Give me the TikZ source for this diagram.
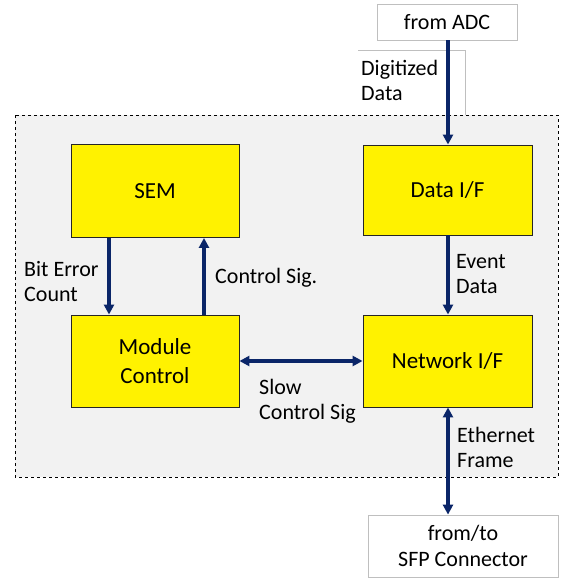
\documentclass[tikz,border=0pt]{standalone}
\usepackage{fontspec}
\setmainfont{Carlito}
\usetikzlibrary{arrows.meta}
\definecolor{navy}{HTML}{0A2568}
\definecolor{panel}{HTML}{F2F2F2}
\definecolor{thinframe}{HTML}{BFBFBF}
\tikzset{
  block/.style={draw=black!85, line width=0.9pt, fill=yellow, font=\fontsize{23}{29}\selectfont, align=center, inner sep=0pt},
  portbox/.style={draw=thinframe, line width=0.8pt, fill=white, font=\fontsize{22}{25.5}\selectfont, align=center, inner sep=0pt},
  lbl/.style={font=\fontsize{22}{25.5}\selectfont, anchor=base west, inner sep=0pt},
  link/.style={draw=navy, line width=3.2pt, -{Triangle[length=10pt,width=10pt]}},
  bilink/.style={draw=navy, line width=3.2pt, {Triangle[length=10pt,width=10pt]}-{Triangle[length=10pt,width=10pt]}}
}
\begin{document}
\begin{tikzpicture}[x=1pt,y=-1pt]
\useasboundingbox (0,0) rectangle (568,578);
% frame behind the "Digitized Data" label
\draw[thinframe, line width=0.8pt] (358,50) -- (465,50) -- (465,118);
% module outline
\draw[dashed, fill=panel, line width=0.8pt] (15,115) rectangle (558,477);
% external ports
\node[portbox, minimum width=140pt, minimum height=36pt] (adc) at (447,22) {from ADC};
\node[portbox, minimum width=190pt, minimum height=62pt] (sfp) at (463,546) {from/to\\SFP Connector};
% functional blocks
\node[block, minimum width=168pt, minimum height=93pt] (sem) at (155,191) {SEM};
\node[block, minimum width=169pt, minimum height=90pt] (dif) at (447.5,190) {Data I/F};
\node[block, minimum width=168pt, minimum height=92pt] (mc) at (155,361) {Module\\Control};
\node[block, minimum width=169pt, minimum height=92pt] (nif) at (447.5,361) {Network I/F};
% connectors
\draw[link] (adc.south -| 448,0) -- (dif.north -| 448,0);
\draw[link] (dif.south -| 448,0) -- (nif.north -| 448,0);
\draw[link] (sem.south -| 109,0) -- (mc.north -| 109,0);
\draw[link] (mc.north -| 204,0) -- (sem.south -| 204,0);
\draw[bilink] (mc.east) -- (nif.west);
\draw[bilink] (nif.south -| 448,0) -- (sfp.north -| 448,0);
% labels, one node per line, placed on their baselines
\node[lbl] (l1a) at (361,75) {Digitized};
\node[lbl] (l1b) at (361,100.5) {Data};
\node[lbl] (l2a) at (24,276) {Bit Error};
\node[lbl] (l2b) at (24,301.5) {Count};
\node[lbl] (l3) at (215,283) {Control Sig.};
\node[lbl] (l4a) at (456,268) {Event};
\node[lbl] (l4b) at (456,293.5) {Data};
\node[lbl] (l5a) at (259,394) {Slow};
\node[lbl] (l5b) at (259,419.5) {Control Sig};
\node[lbl] (l6a) at (457,442) {Ethernet};
\node[lbl] (l6b) at (457,467.5) {Frame};
\end{tikzpicture}
\end{document}
